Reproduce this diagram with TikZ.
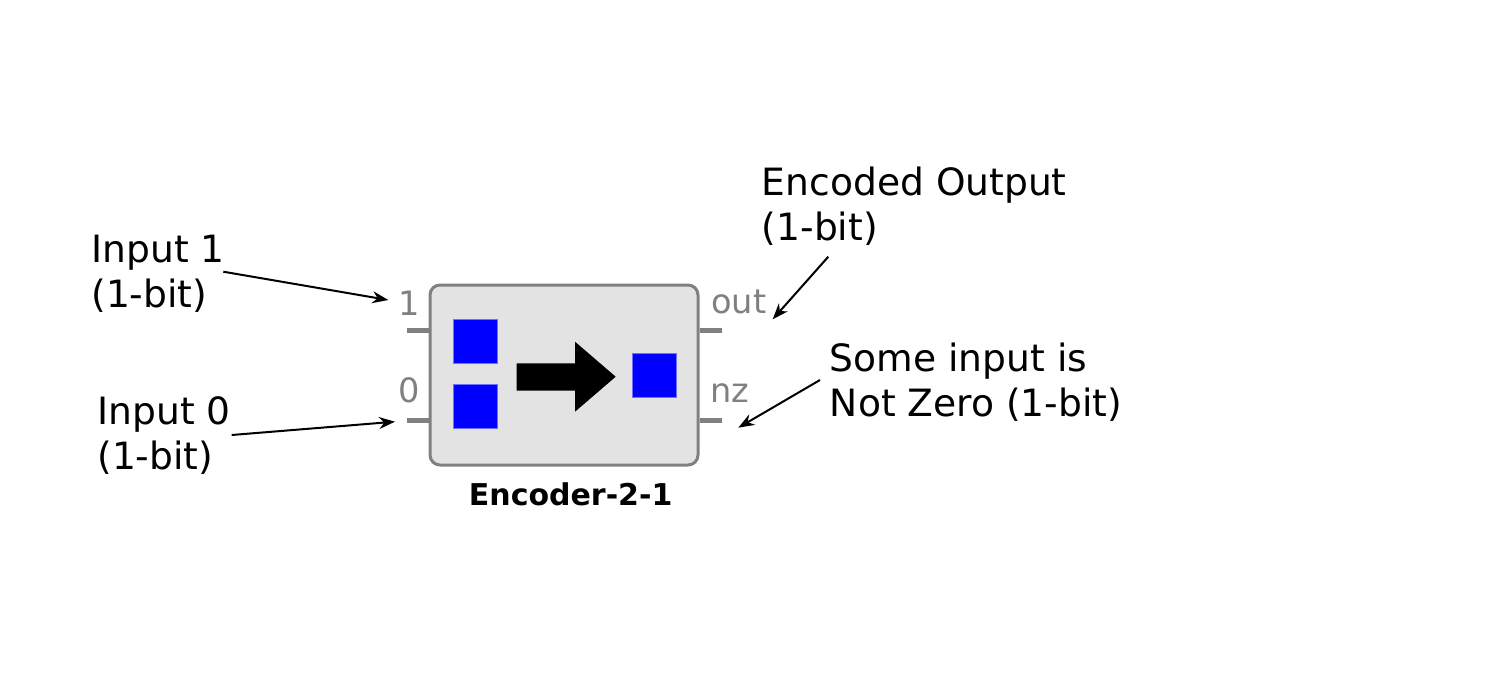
\documentclass[tikz,border=0pt]{standalone}
\usepackage{fontspec}
\setmainfont{DejaVu Sans}
\usetikzlibrary{arrows.meta}
\definecolor{pingray}{HTML}{808080}
\definecolor{boxfill}{HTML}{E3E3E3}
\definecolor{bitedge}{HTML}{7070FF}
\newcommand{\twoline}[3][22.75pt]{\vtop{\baselineskip=#1\hbox{#2}\hbox{#3}}}
\begin{document}
\begin{tikzpicture}[x=0.5pt,y=-0.5pt,
  lab/.style={anchor=base west, inner sep=0, font=\fontsize{18.8}{22}\selectfont},
  port/.style={anchor=base west, inner sep=0, text=pingray, font=\fontsize{16.8}{20}\selectfont},
  pin/.style={draw=pingray, line width=2.5pt},
  bit/.style={draw=bitedge, fill=blue, line width=0.4pt, minimum size=22pt, inner sep=0},
  note/.style={-{Stealth[length=8pt,width=6pt]}, line width=1pt}]
\useasboundingbox (0,0) rectangle (1503,680);

% main block
\node[draw=pingray, fill=boxfill, line width=1.5pt, rounded corners=5pt,
      minimum width=134pt, minimum height=90pt, inner sep=0] (enc) at (564,375) {};

% pins
\coordinate (pin1) at (406.5,330);
\coordinate (pin0) at (406.5,420);
\coordinate (pinout) at (722,330);
\coordinate (pinnz) at (722,420);
\draw[pin] (pin1) -- (pin1 -| enc.west);
\draw[pin] (pin0) -- (pin0 -| enc.west);
\draw[pin] (enc.east |- pinout) -- (pinout);
\draw[pin] (enc.east |- pinnz) -- (pinnz);

% bits
\node[bit] (b1) at (475.3,341.3) {};
\node[bit] (b0) at (475.3,406.3) {};
\node[bit] (bo) at (654.3,375.7) {};

% big arrow
\fill (516.7,363.3) -- (575,363.3) -- (575,341.7) -- (615.7,376.7) -- (575,411.7)
      -- (575,390.7) -- (516.7,390.7) -- cycle;

% port labels
\node[port] (l1) at (398,315) {1};
\node[port] (l0) at (398,402) {0};
\node[port] (lout) at (711,313) {out};
\node[port] (lnz) at (710,402) {nz};

% block name
\node[anchor=base west, inner sep=0, font=\fontsize{15}{18}\selectfont\bfseries] (name) at (468.5,505) {Encoder-2-1};

% annotations
\node[lab] (in1) at (91,262) {\twoline{Input 1}{(1-bit)}};
\node[lab] (in0) at (97,424) {\twoline{Input 0}{(1-bit)}};
\node[lab] (eo) at (761.5,195) {\twoline{Encoded Output}{(1-bit)}};
\node[lab] (nzl) at (829.5,371) {\twoline{Some input is}{Not Zero (1-bit)}};

\coordinate (a1s) at (223.3,271.7);
\coordinate (a1e) at (388.3,300);
\coordinate (a0s) at (231.7,435);
\coordinate (a0e) at (395,421.7);
\coordinate (aos) at (828.3,256.7);
\coordinate (aoe) at (772.7,319.3);
\coordinate (azs) at (820,380);
\coordinate (aze) at (738.3,427.7);
\draw[note] (a1s) -- (a1e);
\draw[note] (a0s) -- (a0e);
\draw[note] (aos) -- (aoe);
\draw[note] (azs) -- (aze);
\end{tikzpicture}
\end{document}
